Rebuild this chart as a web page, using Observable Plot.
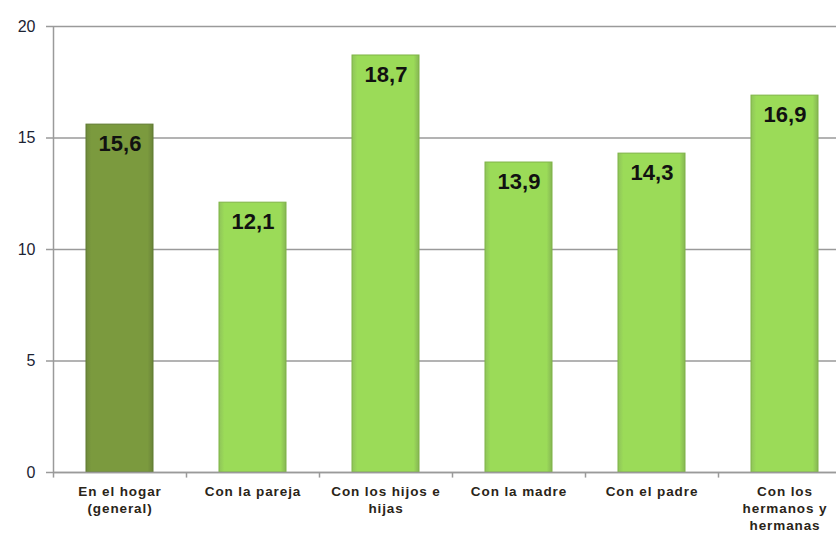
<!DOCTYPE html>
<html>
<head>
<meta charset="utf-8">
<script src="https://cdn.jsdelivr.net/npm/d3@7"></script>
<script src="https://cdn.jsdelivr.net/npm/@observablehq/plot@0.6"></script>
<style>
  html, body { margin: 0; padding: 0; background: #fff; overflow: hidden; width: 836px; height: 533px; }
  #chart { width: 851px; }
  #chart svg { display: block; max-width: none !important; }
  #chart svg g[aria-label="x-axis tick label"] text { letter-spacing: 0.9px; }
</style>
</head>
<body>
<div id="chart"></div>
<script>
const categories = [
  "En el hogar\n(general)",
  "Con la pareja",
  "Con los hijos e\nhijas",
  "Con la madre",
  "Con el padre",
  "Con los\nhermanos y\nhermanas"
];
const values = [15.6, 12.1, 18.7, 13.9, 14.3, 16.9];
const labels = ["15,6", "12,1", "18,7", "13,9", "14,3", "16,9"];
const yTicks = [0, 5, 10, 15, 20];

const data = categories.map((c, i) => ({category: c, value: values[i], label: labels[i], first: i === 0}));

const defs = () => {
  const ns = "http://www.w3.org/2000/svg";
  const d = document.createElementNS(ns, "defs");
  d.innerHTML = `
    <linearGradient id="gLight" x1="0" x2="1" y1="0" y2="0">
      <stop offset="0" stop-color="#8fc45a"/>
      <stop offset="0.08" stop-color="#9bdb58"/>
      <stop offset="0.92" stop-color="#9bdb58"/>
      <stop offset="1" stop-color="#86b654"/>
    </linearGradient>
    <linearGradient id="gDark" x1="0" x2="1" y1="0" y2="0">
      <stop offset="0" stop-color="#6f8a3c"/>
      <stop offset="0.08" stop-color="#7b9a3e"/>
      <stop offset="0.92" stop-color="#7b9a3e"/>
      <stop offset="1" stop-color="#6a8339"/>
    </linearGradient>`;
  return d;
};

const half = 66.5;

const chart = Plot.plot({
  width: 851,
  height: 533,
  marginLeft: 53,
  marginRight: 0,
  marginTop: 26,
  marginBottom: 61,
  style: {fontFamily: "Arial, 'Liberation Sans', sans-serif", background: "#fff", overflow: "visible", maxWidth: "none"},
  x: {domain: categories, paddingInner: 0.5, paddingOuter: 0.25, label: null},
  y: {domain: [0, 20], label: null},
  marks: [
    defs,
    Plot.gridY(yTicks, {stroke: "#9a9a9a", strokeOpacity: 1, strokeWidth: 1.5}),
    Plot.barY(data, {
      x: "category", y: "value",
      fill: d => d.first ? "url(#gDark)" : "url(#gLight)",
      stroke: d => d.first ? "#5f7a30" : "#7fb347",
      strokeWidth: 1
    }),
    Plot.text(data, {
      x: "category", y: "value", text: "label",
      dy: 19, fontSize: 22, fontWeight: "bold", fill: "#111"
    }),
    Plot.ruleY([0], {stroke: "#9a9a9a", strokeWidth: 1.5}),
    Plot.ruleX([categories[0]], {x: d => d, dx: -half, y1: 0, y2: 20, stroke: "#9a9a9a", strokeWidth: 1.5}),
    Plot.ruleX(categories, {x: d => d, dx: -half, y1: 0, y2: -0.25, stroke: "#9a9a9a", strokeWidth: 1.5}),
    Plot.axisY({
      ticks: yTicks, tickSize: 7, tickPadding: 11, fontSize: 16,
      stroke: "#9a9a9a", fill: "#1c2333", strokeWidth: 1.5
    }),
    Plot.axisX({
      tickSize: 0, tickPadding: 12, fontSize: 13.5, fontWeight: "bold",
      fill: "#2a2418", lineHeight: 1.25
    })
  ]
});

document.getElementById("chart").appendChild(chart);
</script>
</body>
</html>
